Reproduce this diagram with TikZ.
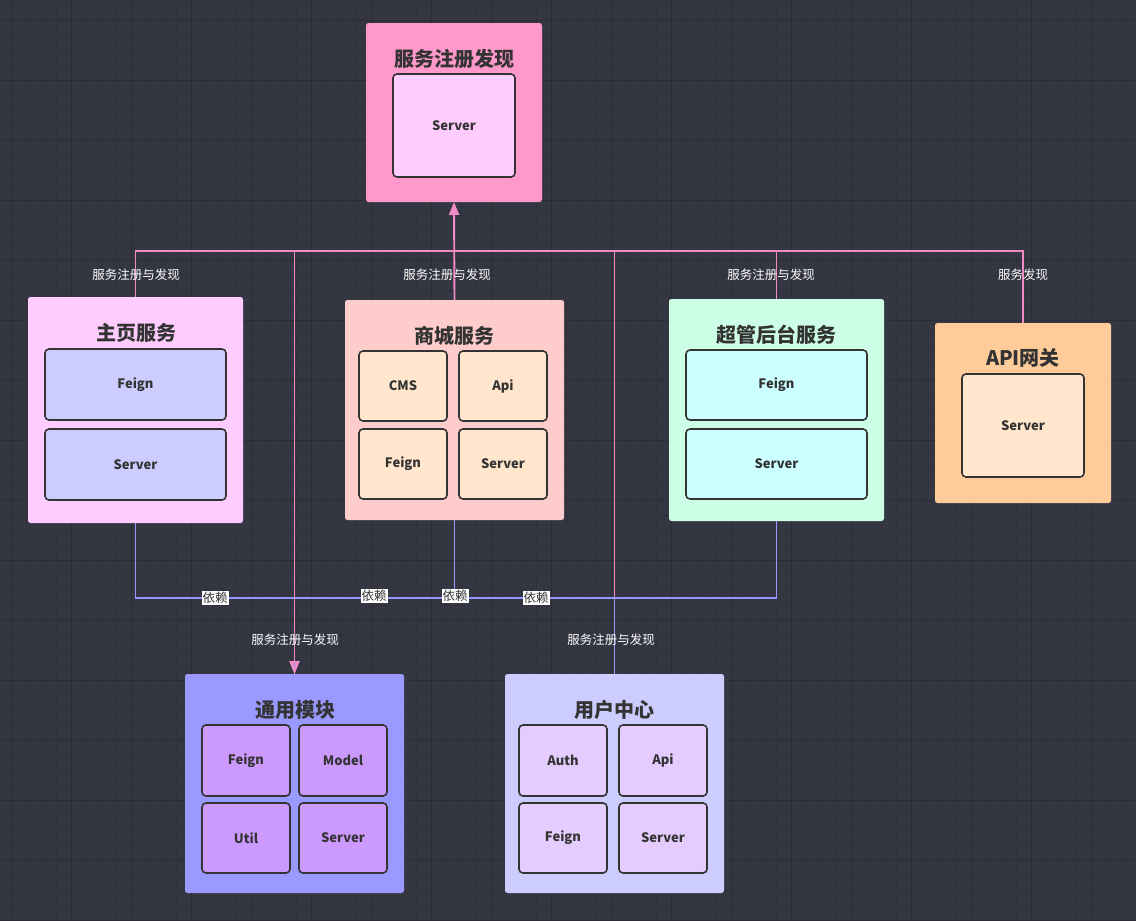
\documentclass[tikz,border=0pt]{standalone}
\usepackage{fontspec}
\setmainfont{Noto Sans CJK SC}
\usetikzlibrary{arrows.meta}
\definecolor{bg}{RGB}{52,54,66}
\definecolor{gridminor}{RGB}{48,49,60}
\definecolor{gridmajor}{RGB}{44,44,54}
\definecolor{txt}{RGB}{51,51,51}
\definecolor{pk}{RGB}{240,140,195}
\definecolor{pu}{RGB}{150,150,255}
\definecolor{cReg}{HTML}{FF99CC}
\definecolor{cRegIn}{HTML}{FFCCFF}
\definecolor{cHome}{HTML}{FFCCFF}
\definecolor{cHomeIn}{HTML}{CCCCFF}
\definecolor{cMall}{HTML}{FFCCCC}
\definecolor{cMallIn}{HTML}{FFE6CC}
\definecolor{cAdmin}{HTML}{CCFFE6}
\definecolor{cAdminIn}{HTML}{CCFFFF}
\definecolor{cGw}{HTML}{FFCC99}
\definecolor{cGwIn}{HTML}{FFE6CC}
\definecolor{cCom}{HTML}{9999FF}
\definecolor{cComIn}{HTML}{CC99FF}
\definecolor{cUser}{HTML}{CCCCFF}
\definecolor{cUserIn}{HTML}{E5CCFF}
\tikzset{
  outerbox/.style={draw=none, rounded corners=2.5pt, inner sep=0pt, outer sep=0pt, anchor=north west},
  innerbox/.style={draw=txt, line width=1.6pt, rounded corners=4pt, inner sep=0pt, outer sep=0pt, anchor=north west,
     font=\fontsize{13}{15}\selectfont\bfseries, text=txt},
  titlelbl/.style={font=\fontsize{20}{23}\selectfont\bfseries, text=txt, inner sep=0pt},
  edgelbl/.style={font=\fontsize{12.5}{14}\selectfont, text=white, inner sep=1pt},
  deplbl/.style={font=\fontsize{12.5}{14}\selectfont, text=txt, fill=white, inner sep=1pt},
  pkline/.style={draw=pk, line width=1.9pt},
  puline/.style={draw=pu, line width=1.9pt},
  tip/.style={-{Triangle[width=10pt,length=13pt]}}
}
\begin{document}
\begin{tikzpicture}[x=1pt,y=-1pt]
\useasboundingbox (0,0) rectangle (1136,921);
\fill[bg] (0,0) rectangle (1136,921);
% grid
\foreach \i in {0,...,75} {
  \draw[gridminor, line width=0.7pt] ({11.7+15*\i},0) -- ({11.7+15*\i},921);
}
\foreach \j in {0,...,61} {
  \draw[gridminor, line width=0.7pt] (0,{5+15*\j}) -- (1136,{5+15*\j});
}
\foreach \i in {0,...,18} {
  \draw[gridmajor, line width=0.9pt] ({11.7+60*\i},0) -- ({11.7+60*\i},921);
}
\foreach \j in {0,...,15} {
  \draw[gridmajor, line width=0.9pt] (0,{20+60*\j}) -- (1136,{20+60*\j});
}

% 服务注册发现
\node[outerbox, fill=cReg, minimum width=176pt, minimum height=179pt] (reg) at (366,23) {};
\node[titlelbl] (regT) at (454,59) {服务注册发现};
\node[innerbox, fill=cRegIn, minimum width=122pt, minimum height=103pt] (regS) at (393,74) {Server};

% 主页服务
\node[outerbox, fill=cHome, minimum width=215pt, minimum height=226pt] (home) at (28,297) {};
\node[titlelbl] (homeT) at (136,333) {主页服务};
\node[innerbox, fill=cHomeIn, minimum width=181pt, minimum height=71pt] (homeF) at (45,349) {Feign};
\node[innerbox, fill=cHomeIn, minimum width=181pt, minimum height=71pt] (homeS) at (45,429) {Server};

% 商城服务
\node[outerbox, fill=cMall, minimum width=219pt, minimum height=220pt] (mall) at (345,300) {};
\node[titlelbl] (mallT) at (454,336) {商城服务};
\node[innerbox, fill=cMallIn, minimum width=88pt, minimum height=70pt] (mallC) at (359,351) {CMS};
\node[innerbox, fill=cMallIn, minimum width=88pt, minimum height=70pt] (mallA) at (459,351) {Api};
\node[innerbox, fill=cMallIn, minimum width=88pt, minimum height=70pt] (mallF) at (359,429) {Feign};
\node[innerbox, fill=cMallIn, minimum width=88pt, minimum height=70pt] (mallS) at (459,429) {Server};

% 超管后台服务
\node[outerbox, fill=cAdmin, minimum width=215pt, minimum height=222pt] (admin) at (669,299) {};
\node[titlelbl] (adminT) at (776,335) {超管后台服务};
\node[innerbox, fill=cAdminIn, minimum width=181pt, minimum height=70pt] (adminF) at (686,350) {Feign};
\node[innerbox, fill=cAdminIn, minimum width=181pt, minimum height=70pt] (adminS) at (686,429) {Server};

% API网关
\node[outerbox, fill=cGw, minimum width=176pt, minimum height=180pt] (gw) at (935,323) {};
\node[titlelbl] (gwT) at (1023,358) {API网关};
\node[innerbox, fill=cGwIn, minimum width=122pt, minimum height=103pt] (gwS) at (962,374) {Server};

% 通用模块
\node[outerbox, fill=cCom, minimum width=219pt, minimum height=219pt] (com) at (185,674) {};
\node[titlelbl] (comT) at (295,710) {通用模块};
\node[innerbox, fill=cComIn, minimum width=88pt, minimum height=71pt] (comF) at (202,725) {Feign};
\node[innerbox, fill=cComIn, minimum width=88pt, minimum height=71pt] (comM) at (299,725) {Model};
\node[innerbox, fill=cComIn, minimum width=88pt, minimum height=70pt] (comU) at (202,803) {Util};
\node[innerbox, fill=cComIn, minimum width=88pt, minimum height=70pt] (comS) at (299,803) {Server};

% 用户中心
\node[outerbox, fill=cUser, minimum width=219pt, minimum height=219pt] (user) at (505,674) {};
\node[titlelbl] (userT) at (614,710) {用户中心};
\node[innerbox, fill=cUserIn, minimum width=88pt, minimum height=71pt] (userA) at (519,725) {Auth};
\node[innerbox, fill=cUserIn, minimum width=88pt, minimum height=71pt] (userApi) at (619,725) {Api};
\node[innerbox, fill=cUserIn, minimum width=88pt, minimum height=70pt] (userF) at (519,803) {Feign};
\node[innerbox, fill=cUserIn, minimum width=88pt, minimum height=70pt] (userS) at (619,803) {Server};

% connectors
\coordinate (bus) at (454,251);
\coordinate (dep) at (294.5,598);
\coordinate (comtop) at (294.5,640);

\draw[pkline] (home.north) |- (bus);
\draw[pkline] (admin.north) |- (bus);
\draw[pkline] (gw.north) |- (bus);
\draw[pkline] (user.north) |- (bus);
\draw[pkline, tip, fill=pk] (mall.north) -- (reg.south);

\draw[puline] (home.south) |- (dep);
\draw[puline] (mall.south) |- (dep);
\draw[puline] (admin.south) |- (dep);
\draw[puline] (user.north) |- (dep);
\draw[puline, tip] (dep) -- (com.north);
\draw[pkline] (com.north) |- (bus);
\draw[draw=pk, line width=1.9pt, -{Triangle[width=10pt,length=13pt,fill=pk!60!pu]}] (comtop) -- (com.north);

% labels
\node[edgelbl] (l1) at (136,275) {服务注册与发现};
\node[edgelbl] (l2) at (447,275) {服务注册与发现};
\node[edgelbl] (l3) at (771,275) {服务注册与发现};
\node[edgelbl] (l4) at (1023,275) {服务发现};
\node[edgelbl] (l5) at (295,640) {服务注册与发现};
\node[edgelbl] (l6) at (611,640) {服务注册与发现};

\node[deplbl] (d1) at (215,598) {依赖};
\node[deplbl] (d2) at (374,596) {依赖};
\node[deplbl] (d3) at (455,596) {依赖};
\node[deplbl] (d4) at (536,598) {依赖};
\end{tikzpicture}
\end{document}
